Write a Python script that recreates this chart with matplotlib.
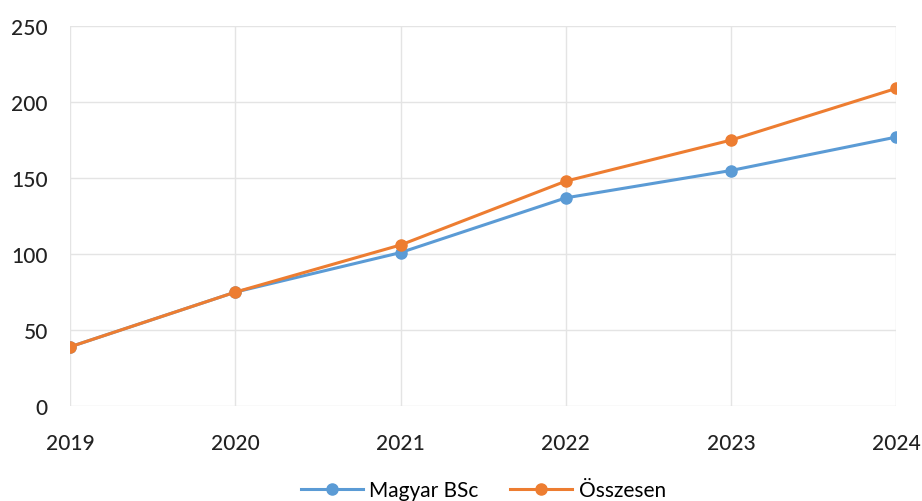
import matplotlib.pyplot as plt

# Data
years = ['2019', '2020', '2021', '2022', '2023', '2024']
magyar_bsc = [39, 75, 101, 137, 155, 177]
osszesen = [39, 75, 106, 148, 175, 209]

plt.rcParams['font.family'] = ['Lato', 'DejaVu Sans']

fig = plt.figure(figsize=(9.22, 5.02), dpi=100)
ax = fig.add_axes([0.076, 0.189, 0.896, 0.757])

x = range(len(years))
ax.plot(x, magyar_bsc, color='#5B9BD5', lw=2.2, marker='o', markersize=8, label='Magyar BSc')
ax.plot(x, osszesen, color='#ED7D31', lw=2.2, marker='o', markersize=8, label='Összesen')

ax.set_xlim(0, len(years) - 1)
ax.set_ylim(0, 250)
ax.set_yticks([0, 50, 100, 150, 200, 250])
ax.set_xticks(list(x))
ax.set_xticklabels(years)
ax.get_xticklabels()[-1].set_color('#6a6a7a')

ax.grid(True, color='#e4e4e4', lw=1)
ax.set_axisbelow(True)
for s in ax.spines.values():
    s.set_visible(False)
ax.tick_params(axis='both', length=0, labelsize=15, colors='#222222')
ax.tick_params(axis='x', pad=19)
ax.tick_params(axis='y', pad=16)
for lbl in ax.get_xticklabels() + ax.get_yticklabels():
    lbl.set_fontweight('medium')

ax.legend(loc='upper center', bbox_to_anchor=(0.5, -0.145), ncol=2, frameon=False,
          fontsize=15, handlelength=3.0, columnspacing=1.5, handletextpad=0.3)

fig.savefig('out.png', dpi=100)
